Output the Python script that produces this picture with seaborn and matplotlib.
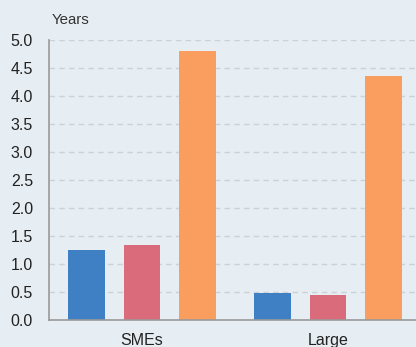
import matplotlib
matplotlib.use("Agg")
import matplotlib.pyplot as plt
import seaborn as sns
import pandas as pd
from matplotlib.ticker import FixedLocator

categories = ["SMEs", "Large"]
series = ["Series 1", "Series 2", "Series 3"]
values_s1 = [1.25, 0.49]
values_s2 = [1.34, 0.44]
values_s3 = [4.80, 4.36]
yticks = [0.0, 0.5, 1.0, 1.5, 2.0, 2.5, 3.0, 3.5, 4.0, 4.5, 5.0]

rows = []
for name, vals in zip(series, [values_s1, values_s2, values_s3]):
    for c, v in zip(categories, vals):
        rows.append({"cat": c, "series": name, "value": v})
df = pd.DataFrame(rows)

bg = "#E6EEF4"
sns.set_theme(style="white")
plt.rcParams["font.family"] = ["Liberation Sans", "DejaVu Sans"]

fig = plt.figure(figsize=(4.16, 3.47), dpi=100, facecolor=bg)
ax = fig.add_axes([49 / 416, 1 - 320 / 347, (421 - 49) / 416, 280 / 347])
ax.set_facecolor(bg)

sns.barplot(data=df, x="cat", y="value", hue="series",
            palette=["#3F7FC4", "#D96B7A", "#F99E5E"],
            width=0.9, gap=0.34, ax=ax, legend=False, saturation=1,
            edgecolor="none", linewidth=0)

ax.set_ylim(0, 5.0)
ax.set_xlim(-0.5, 1.5)
ax.set_yticks(yticks)
ax.set_yticklabels([f"{t:.1f}" for t in yticks], fontsize=11.5, color="#222222")
ax.tick_params(axis="y", length=0, pad=11.5)
ax.tick_params(axis="x", length=0, pad=9.5, labelsize=11.5, labelcolor="#222222")
ax.xaxis.set_minor_locator(FixedLocator([0.5]))
ax.tick_params(axis="x", which="minor", direction="in", length=5, color="#999999", width=1)
ax.set_xlabel("")
ax.set_ylabel("")
ax.grid(axis="y", linestyle=(0, (4, 3)), color="#CDD1D5", linewidth=1)
ax.set_axisbelow(True)
for s in ["top", "right"]:
    ax.spines[s].set_visible(False)
for s in ["left", "bottom"]:
    ax.spines[s].set_color("#999999")
    ax.spines[s].set_linewidth(1.2)

fig.text(52 / 416, 1 - 20 / 347, "Years", fontsize=10.8, color="#333333", va="center", ha="left")

fig.savefig("out.png", dpi=100, facecolor=bg)
